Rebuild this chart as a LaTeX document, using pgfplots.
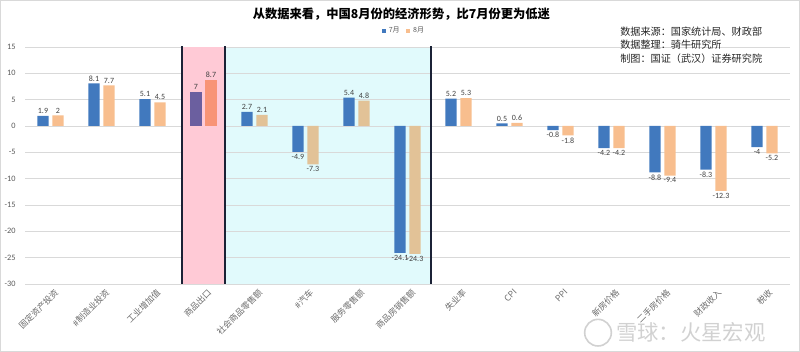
\documentclass[border=0pt]{standalone}
\usepackage{pgfplots}
\pgfplotsset{compat=1.18}
\usepackage{pgfplotstable}
\usepackage{fontspec}
\setmainfont{Carlito}
\newfontfamily\cjk{Noto Sans CJK SC}
\definecolor{cblue}{HTML}{4179BE}
\definecolor{corange}{HTML}{F8BE8E}
\definecolor{cpurple}{HTML}{6B5F9F}
\definecolor{csalmon}{HTML}{F89476}
\definecolor{ctan}{HTML}{E2C297}
\definecolor{cpink}{HTML}{FFCAD6}
\definecolor{ccyan}{HTML}{E1FAFC}
\definecolor{cline}{HTML}{1B2236}
\definecolor{ctxt}{HTML}{595959}
\definecolor{cgrid}{HTML}{D9D9D9}

\pgfplotstableread{
x y l
0 1.9 1.9
1 8.1 8.1
2 5.1 5.1
4 2.7 2.7
5 -4.9 -4.9
6 5.4 5.4
7 -24.1 -24.1
8 5.2 5.2
9 0.5 0.5
10 -0.8 -0.8
11 -4.2 -4.2
12 -8.8 -8.8
13 -8.3 -8.3
14 -4 -4
}\julblue
\pgfplotstableread{
x y l
3 6.5 7
}\julpurple
\pgfplotstableread{
x y l
0 2 2
1 7.7 7.7
2 4.5 4.5
8 5.3 5.3
9 0.6 0.6
10 -1.8 -1.8
11 -4.2 -4.2
12 -9.4 -9.4
13 -12.3 -12.3
14 -5.2 -5.2
}\augorange
\pgfplotstableread{
x y l
3 8.7 8.7
}\augsalmon
\pgfplotstableread{
x y l
4 2.1 2.1
5 -7.3 -7.3
6 4.8 4.8
7 -24.3 -24.3
}\augtan

\begin{document}
\begin{tikzpicture}
\draw[cgrid, line width=0.6pt] (0.3pt,0.3pt) rectangle (599.7pt,263.7pt);
\begin{axis}[
  at={(18.75pt,51pt)}, anchor=south west,
  scale only axis, width=573.75pt, height=177.75pt,
  set layers=standard,
  xmin=-0.5, xmax=14.5, ymin=-30, ymax=15,
  ytick={-30,-25,-20,-15,-10,-5,0,5,10,15},
  yticklabels={-30,-25,-20,-15,-10,-5,0,5,10,15},
  xtick={0,...,14},
  xticklabels={固定资产投资,\#制造业投资,工业增加值,商品出口,社会商品零售额,\#汽车,服务零售额,商品房销售额,失业率,CPI,PPI,新房价格,二手房价格,财政收入,税收},
  axis line style={draw=none},
  major tick length=0pt,
  ymajorgrids, grid style={cgrid, line width=0.6pt},
  yticklabel style={font=\fontsize{6.2}{7}\selectfont, text=ctxt, xshift=-3.5pt},
  xticklabel style={font=\cjk\fontsize{6.4}{7}\selectfont, text=ctxt!90, rotate=45, anchor=north east, inner sep=1pt, xshift=0.5pt, yshift=-3pt},
  ybar, bar width=0.22,
  point meta=explicit symbolic,
  visualization depends on={\thisrow{y} \as \rawy},
  nodes near coords,
  nodes near coords style={font=\fontsize{6}{7}\selectfont, text=black!75, inner sep=1.5pt,
    anchor={\ifdim\rawy pt<0pt north\else south\fi}},
  legend columns=2,
  legend style={at={(0.496,1)}, anchor=center, yshift=12pt, draw=none, fill=none, font=\cjk\fontsize{5.3}{6}\selectfont, text=ctxt, /tikz/every even column/.append style={column sep=3pt}, inner sep=1pt},
  legend image code/.code={\fill[#1] (0pt,-1.5pt) rectangle (3pt,1.5pt);},
]
\begin{pgfonlayer}{axis background}
\fill[ccyan] (axis cs:3.425,-30) rectangle (axis cs:7.467,15);
\end{pgfonlayer}
\fill[cpink] (axis cs:2.585,-30) rectangle (axis cs:3.425,15);

\addplot[fill=cblue, draw=none, bar shift=-0.147] table[x=x,y=y,meta=l]{\julblue};
\addlegendentry{7月}
\addplot[fill=corange, draw=none, bar shift=0.147] table[x=x,y=y,meta=l]{\augorange};
\addlegendentry{8月}
\addplot[fill=cpurple, draw=none, bar shift=-0.147, forget plot] table[x=x,y=y,meta=l]{\julpurple};
\addplot[fill=csalmon, draw=none, bar shift=0.147, forget plot] table[x=x,y=y,meta=l]{\augsalmon};
\addplot[fill=ctan, draw=none, bar shift=0.147, forget plot] table[x=x,y=y,meta=l]{\augtan};

\draw[cline, line width=1.3pt] (axis cs:2.585,-30) -- (axis cs:2.585,15.3);
\draw[cline, line width=1.3pt] (axis cs:3.425,-30) -- (axis cs:3.425,15.3);
\draw[cline, line width=1.3pt] (axis cs:7.467,-30) -- (axis cs:7.467,15.3);
\end{axis}
\node[font=\cjk\bfseries\fontsize{9.2}{11}\selectfont, text=black] at (301pt,253.5pt) {从数据来看，中国8月份的经济形势，比7月份更为低迷};
\node[anchor=north west, align=left, inner sep=0pt, font=\cjk\fontsize{7.6}{10.1}\selectfont, text=black!85] at (465pt,244pt) {数据来源：国家统计局、财政部\\数据整理：骑牛研究所\\制图：国证（武汉）证券研究院};
\draw[black!18, line width=1.2pt] (448.5pt,14.5pt) circle (10pt);
\node[anchor=west, font=\cjk\fontsize{16}{18}\selectfont, text=black!18, inner sep=0pt] at (462pt,15pt) {雪球：火星宏观};
\end{tikzpicture}
\end{document}
